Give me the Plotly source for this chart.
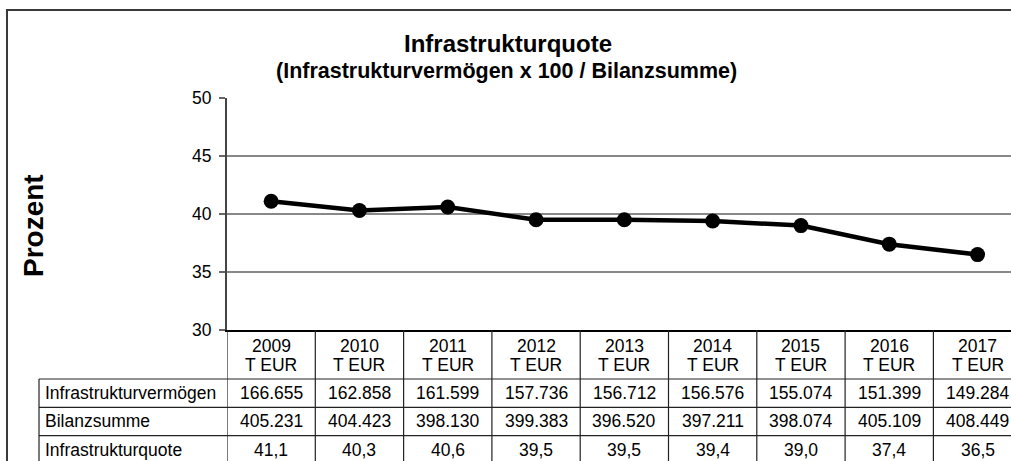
import plotly.graph_objects as go

# ---------------- data ----------------
years = ["2009", "2010", "2011", "2012", "2013", "2014", "2015", "2016", "2017"]
unit_label = "T EUR"
infrastrukturvermoegen = [166655, 162858, 161599, 157736, 156712, 156576, 155074, 151399, 149284]
bilanzsumme = [405231, 404423, 398130, 399383, 396520, 397211, 398074, 405109, 408449]
infrastrukturquote = [41.1, 40.3, 40.6, 39.5, 39.5, 39.4, 39.0, 37.4, 36.5]
row_labels = ["Infrastrukturvermögen", "Bilanzsumme", "Infrastrukturquote"]
y_ticks = [30, 35, 40, 45, 50]

title_text = "Infrastrukturquote"
subtitle_text = "(Infrastrukturvermögen x 100 / Bilanzsumme)"
y_title = "Prozent"

# ---------------- layout geometry (pixels, page coordinates) ----------------
W, H = 1011, 461
PL = 227
PT = 98
PB = H - 330
PR = 0
plot_w = W - PL - PR
plot_h = H - PT - PB
col_w = 88.3
x_max = plot_w / col_w - 0.5

FONT = "Liberation Sans, Arial, sans-serif"
FS = 17.5


def py(p):
    """page pixel y -> paper y"""
    return (H - PB - p) / plot_h


def px(p):
    """page pixel x -> paper x"""
    return (p - PL) / plot_w


def de_int(v):
    return f"{v:,}".replace(",", ".")


def de_dec(v):
    return f"{v:.1f}".replace(".", ",")


idx = list(range(len(years)))

fig = go.Figure()
fig.add_trace(go.Scatter(
    x=idx, y=infrastrukturquote, mode="lines+markers",
    line=dict(color="black", width=4.5),
    marker=dict(color="black", size=15),
    showlegend=False, hoverinfo="skip",
))

shapes = []
annotations = []

# outer chart border
shapes.append(dict(type="rect", xref="paper", yref="paper",
                   x0=px(7), x1=px(1011 + 30), y0=py(10), y1=py(461 + 30),
                   line=dict(color="#3a3a3a", width=2), fillcolor="rgba(0,0,0,0)", layer="below"))

# table geometry
plot_bottom = 330
table_top = 379
row_h = 28.3
table_bottom = table_top + row_h * len(row_labels)
row_lines = [table_top + row_h * i for i in range(len(row_labels) + 1)]
for yl in row_lines:
    shapes.append(dict(type="line", xref="paper", yref="paper",
                       x0=px(39), x1=1.0, y0=py(yl), y1=py(yl),
                       line=dict(color="#222", width=1.2)))
# row-label box left edge
shapes.append(dict(type="line", xref="paper", yref="paper",
                   x0=px(39), x1=px(39), y0=py(table_top), y1=py(table_bottom),
                   line=dict(color="#222", width=1.2)))
# column separators (through category scale)
for k in range(len(years) + 1):
    shapes.append(dict(type="line", xref="x", yref="paper",
                       x0=k - 0.5, x1=k - 0.5, y0=py(plot_bottom), y1=py(table_bottom),
                       line=dict(color="#222", width=1.2)))

# column headers
for k, yr in enumerate(years):
    annotations.append(dict(xref="x", yref="paper", x=k, y=py(346), text=yr,
                            showarrow=False, xanchor="center", yanchor="middle",
                            font=dict(family=FONT, size=FS, color="black")))
    annotations.append(dict(xref="x", yref="paper", x=k, y=py(365), text=unit_label,
                            showarrow=False, xanchor="center", yanchor="middle",
                            font=dict(family=FONT, size=FS, color="black")))

table_rows = [
    [de_int(v) for v in infrastrukturvermoegen],
    [de_int(v) for v in bilanzsumme],
    [de_dec(v) for v in infrastrukturquote],
]
for r, (lab, vals) in enumerate(zip(row_labels, table_rows)):
    yc = table_top + row_h * (r + 0.5)
    annotations.append(dict(xref="paper", yref="paper", x=px(43), y=py(yc), text=lab,
                            showarrow=False, xanchor="left", yanchor="middle",
                            font=dict(family=FONT, size=FS, color="black")))
    for k, v in enumerate(vals):
        annotations.append(dict(xref="x", yref="paper", x=k, y=py(yc), text=v,
                                showarrow=False, xanchor="center", yanchor="middle",
                                font=dict(family=FONT, size=FS, color="black")))

# titles
annotations.append(dict(xref="paper", yref="paper", x=px(508), y=py(43), text=f"<b>{title_text}</b>",
                        showarrow=False, xanchor="center", yanchor="middle",
                        font=dict(family=FONT, size=24, color="black")))
annotations.append(dict(xref="paper", yref="paper", x=px(506), y=py(71), text=f"<b>{subtitle_text}</b>",
                        showarrow=False, xanchor="center", yanchor="middle",
                        font=dict(family=FONT, size=21.5, color="black")))
annotations.append(dict(xref="paper", yref="paper", x=px(33), y=py(226), text=f"<b>{y_title}</b>",
                        showarrow=False, xanchor="center", yanchor="middle", textangle=-90,
                        font=dict(family=FONT, size=28, color="black")))

fig.update_layout(
    width=W, height=H,
    margin=dict(l=PL, r=PR, t=PT, b=PB, pad=0),
    paper_bgcolor="white", plot_bgcolor="white",
    shapes=shapes, annotations=annotations,
    font=dict(family=FONT, size=FS, color="black"),
    xaxis=dict(range=[-0.5, x_max], showticklabels=False, showgrid=False, zeroline=False,
               showline=True, linecolor="black", linewidth=2, ticks=""),
    yaxis=dict(range=[y_ticks[0], y_ticks[-1]], tickvals=y_ticks, ticktext=[str(t) for t in y_ticks],
               showgrid=True, gridcolor="#888888", gridwidth=1.5, zeroline=False,
               showline=True, linecolor="#444444", linewidth=2,
               ticks="outside", ticklen=6, tickcolor="#666666", tickwidth=1.5,
               ticklabelstandoff=4,
               tickfont=dict(family=FONT, size=FS, color="black")),
)

fig.write_html(
    "out.html",
    config={"displayModeBar": False},
    post_script="document.body.style.margin='0';document.body.style.overflow='hidden';",
)
